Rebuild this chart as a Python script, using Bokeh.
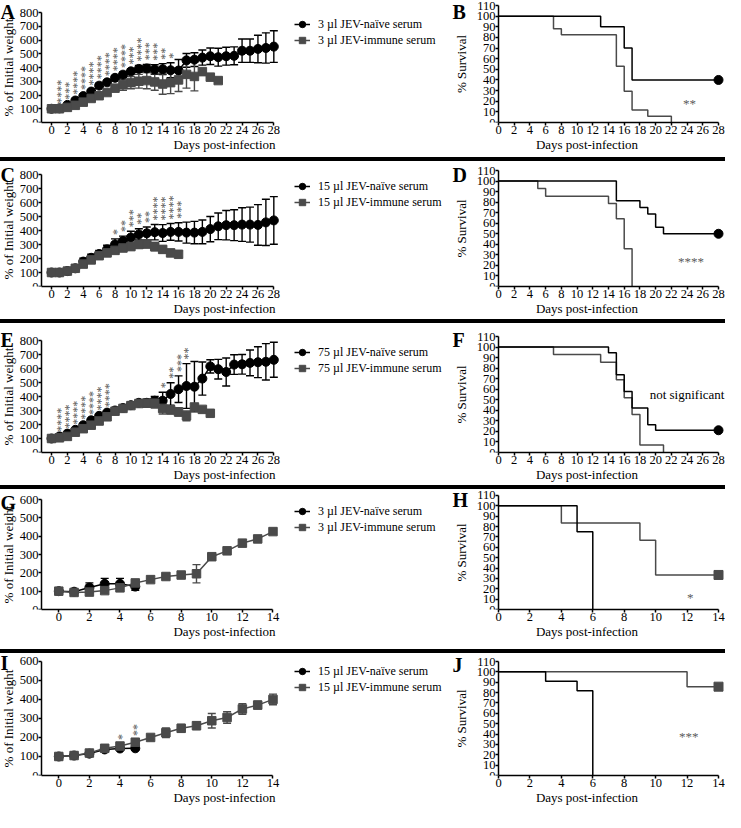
import math
from bokeh.plotting import figure
from bokeh.models import (ColumnDataSource, Range1d, FixedTicker, Whisker, TeeHead,
                          Label, Legend, LegendItem, Div)
from bokeh.layouts import column, row
from bokeh.core.properties import value
from bokeh.embed import file_html
from bokeh.resources import INLINE

FONT = "Liberation Serif, serif"
NAIVE = "#000000"
IMMUNE = "#4a4a4a"
STAR = "#5a5a5a"

# ---------------- weight data (% of initial weight, mean and SEM) ----------------
A_naive = [100, 103, 128, 160, 192, 225, 268, 292, 325, 348, 372, 390, 393, 385, 388, 380, 378,
           452, 457, 472, 482, 475, 482, 485, 522, 522, 535, 542, 552]
A_naive_err = [0, 5, 8, 12, 15, 15, 18, 15, 18, 20, 20, 25, 30, 35, 40, 55, 80,
               50, 50, 55, 60, 65, 65, 65, 85, 85, 100, 110, 115]
A_immune = [100, 100, 110, 125, 148, 175, 195, 218, 250, 275, 290, 300, 305, 295, 280, 290, 310,
            350, 335, 370, 330, 305]
A_immune_err = [0, 0, 5, 8, 10, 12, 12, 18, 25, 40, 45, 50, 60, 60, 75, 80, 85, 100, 105, 0, 0, 0]
A_star_days = list(range(1, 16))
A_star_counts = [4, 3, 4, 4, 4, 4, 4, 4, 4, 3, 4, 3, 3, 2, 1]

C_naive = [100, 100, 110, 130, 178, 205, 232, 265, 300, 325, 350, 372, 380, 388, 382, 390, 390,
           385, 385, 390, 410, 430, 438, 438, 442, 442, 440, 458, 472]
C_naive_err = [0, 0, 8, 12, 25, 25, 25, 30, 40, 35, 45, 40, 45, 55, 60, 60, 65,
               75, 80, 85, 90, 95, 105, 110, 120, 125, 145, 165, 170]
C_immune = [100, 100, 110, 130, 160, 190, 220, 240, 258, 275, 285, 300, 305, 285, 265, 240, 230]
C_immune_err = [0, 0, 5, 10, 20, 25, 15, 15, 20, 20, 25, 25, 30, 30, 25, 25, 20]
C_star_days = [8, 9, 10, 11, 12, 13, 14, 15, 16]
C_star_counts = [1, 2, 3, 2, 2, 4, 4, 4, 3]

E_naive = [100, 115, 135, 162, 195, 230, 262, 285, 300, 318, 338, 355, 355, 370, 370, 418, 452,
           475, 470, 528, 615, 595, 575, 628, 630, 640, 645, 648, 662]
E_naive_err = [0, 5, 8, 8, 10, 10, 10, 10, 12, 12, 12, 15, 25, 30, 60, 80, 95,
               160, 180, 118, 47, 70, 100, 70, 70, 92, 110, 130, 125]
E_immune = [100, 105, 115, 145, 170, 195, 225, 255, 295, 315, 335, 350, 352, 352, 315, 305, 290,
            262, 325, 308, 280]
E_immune_err = [0, 0, 5, 8, 10, 10, 10, 12, 12, 10, 10, 15, 30, 35, 40, 30, 30, 35, 0, 0, 0]
E_star_days = [1, 2, 3, 4, 5, 6, 7, 14, 15, 16, 17]
E_star_counts = [4, 4, 4, 4, 4, 4, 4, 1, 2, 3, 2]

G_naive = [100, 97, 120, 140, 140, 125]
G_naive_err = [0, 5, 25, 30, 30, 20]
G_immune = [100, 93, 95, 103, 118, 145, 163, 180, 188, 195, 288, 320, 362, 385, 425]
G_immune_err = [0, 5, 5, 5, 8, 10, 5, 5, 15, 50, 8, 8, 8, 8, 8]
G_star_days = []
G_star_counts = []

I_naive = [100, 105, 115, 137, 142, 143]
I_naive_err = [0, 3, 5, 8, 8, 8]
I_immune = [100, 105, 118, 143, 155, 175, 200, 225, 248, 262, 288, 305, 350, 370, 400]
I_immune_err = [0, 5, 5, 15, 10, 12, 10, 25, 20, 20, 38, 30, 28, 20, 28]
I_star_days = [4, 5]
I_star_counts = [1, 2]

ticks28 = list(range(0, 29, 2))
ticks14 = list(range(0, 15, 2))
wticks800 = list(range(0, 801, 100))
wticks600 = list(range(0, 601, 100))
sticks = list(range(0, 111, 10))

# ---------------- survival data (% survival step curves) ----------------
B_naive_t = [0, 13, 16, 17, 28]
B_naive_s = [100, 90, 70, 40, 40]
B_imm_t = [0, 7, 8, 15, 16, 17, 19, 22]
B_imm_s = [100, 88.2, 82.4, 52.9, 29.4, 11.8, 5.9, 0]

D_naive_t = [0, 15, 18, 19, 20, 21, 28]
D_naive_s = [100, 81.3, 75, 68.8, 56.3, 50, 50]
D_imm_t = [0, 5, 6, 14, 15, 16, 17]
D_imm_s = [100, 92.9, 85.7, 78.6, 64.3, 35.7, 0]

F_naive_t = [0, 14, 15, 16, 17, 19, 20, 28]
F_naive_s = [100, 94.7, 73.7, 57.9, 42.1, 26.3, 21.1, 21.1]
F_imm_t = [0, 7, 13, 15, 16, 17, 18, 21]
F_imm_s = [100, 92.9, 85.7, 69, 52, 36, 7.1, 0]

H_naive_t = [0, 5, 6]
H_naive_s = [100, 75, 0]
H_imm_t = [0, 4, 9, 10, 14]
H_imm_s = [100, 83.3, 66.7, 33.3, 33.3]

J_naive_t = [0, 3, 5, 6]
J_naive_s = [100, 90.9, 81.8, 0]
J_imm_t = [0, 12, 14]
J_imm_s = [100, 85.7, 85.7]

# ---------------- geometry (pixels) ----------------
LW, RW = 448, 277          # left / right figure widths
AX_L, AX_R = 41, 50        # y-axis pixel position inside each figure
LEG_X = 294                # legend left edge inside weight figures


def style(p, xticks, yticks, ylab_standoff):
    for ax in (p.xaxis[0], p.yaxis[0]):
        ax.axis_line_width = 1.5
        ax.axis_line_color = "black"
        ax.major_tick_line_width = 1.5
        ax.major_tick_line_color = "black"
        ax.major_tick_out = 3
        ax.major_tick_in = 0
        ax.minor_tick_line_color = None
        ax.major_label_text_font = FONT
        ax.major_label_text_font_size = "12.5px"
        ax.major_label_text_color = "black"
        ax.major_label_standoff = 0
        ax.axis_label_text_font = FONT
        ax.axis_label_text_font_size = "13px"
        ax.axis_label_text_font_style = "normal"
        ax.axis_label_text_color = "black"
    p.xaxis[0].axis_label_standoff = 0
    p.yaxis[0].axis_label_standoff = ylab_standoff
    p.xaxis[0].ticker = FixedTicker(ticks=xticks)
    p.yaxis[0].ticker = FixedTicker(ticks=yticks)
    p.xgrid.visible = False
    p.ygrid.visible = False
    p.outline_line_color = None
    p.background_fill_color = "white"
    p.border_fill_color = "white"


def letter_label(p, letter, lx, fh, cy):
    p.add_layout(Label(x=lx, y=fh - cy, x_units="screen", y_units="screen", text=letter,
                       text_font=FONT, text_font_style="bold", text_font_size="20px",
                       text_baseline="middle", text_align="left", text_color="black"))


def weight_panel(letter, dose, n_mean, n_err, i_mean, i_err, star_days, star_counts,
                 x0, kx, xticks, y_max, yticks, height, top, bottom, letter_cy):
    fh = height - bottom
    y_end = y_max * fh / (fh - top)
    xs = x0 - AX_L / kx
    p = figure(width=LW, height=height, x_range=Range1d(xs, xs + LW / kx),
               y_range=Range1d(0, y_end), min_border=0, min_border_left=0, min_border_right=0,
               min_border_top=0, min_border_bottom=bottom,
               output_backend="svg", toolbar_location=None)
    style(p, xticks, yticks, 1)
    p.xaxis.axis_label = "Days post-infection"
    p.yaxis.axis_label = "% of Initial weight"
    p.xaxis.bounds = (x0, xticks[-1])
    p.yaxis.bounds = (0, y_max)
    p.yaxis.fixed_location = x0
    n_days = list(range(len(n_mean)))
    i_days = list(range(len(i_mean)))
    for days, mean, err, col in ((n_days, n_mean, n_err, NAIVE), (i_days, i_mean, i_err, IMMUNE)):
        src = ColumnDataSource(dict(x=days, upper=[m + e for m, e in zip(mean, err)],
                                    lower=[m - e for m, e in zip(mean, err)]))
        w = Whisker(source=src, base="x", upper="upper", lower="lower", dimension="height",
                    line_color=col, line_width=1.4, level="underlay",
                    upper_head=TeeHead(size=8, line_color=col, line_width=1.4),
                    lower_head=TeeHead(size=8, line_color=col, line_width=1.4))
        p.add_layout(w)
    ln = p.line(n_days, n_mean, color=NAIVE, line_width=1.5)
    sn = p.scatter(n_days, n_mean, marker="circle", size=9, color=NAIVE)
    li = p.line(i_days, i_mean, color=IMMUNE, line_width=1.5)
    si = p.scatter(i_days, i_mean, marker="square", size=8.5, color=IMMUNE)
    if star_days:
        top_n = {d: m + e for d, m, e in zip(n_days, n_mean, n_err)}
        top_i = {d: m + e for d, m, e in zip(i_days, i_mean, i_err)}
        ys = [max(top_n.get(d, 0), top_i.get(d, 0)) for d in star_days]
        p.text(x=star_days, y=ys, text=["*" * c for c in star_counts], angle=math.pi / 2,
               text_align="left", text_baseline="middle", x_offset=2, y_offset=-4,
               text_font=value(FONT), text_font_size="12px", text_color=STAR)
    leg = Legend(items=[LegendItem(label=f"{dose} µl JEV-naïve serum", renderers=[ln, sn]),
                        LegendItem(label=f"{dose} µl JEV-immune serum", renderers=[li, si])],
                 location=(LEG_X, fh - (top + 4) - 32), glyph_width=16, glyph_height=16,
                 label_height=16, label_standoff=8, spacing=0, padding=0, margin=0,
                 label_text_font=FONT, label_text_font_size="12px", label_text_color="black",
                 border_line_alpha=0, background_fill_alpha=0)
    p.add_layout(leg)
    letter_label(p, letter, 0, fh, letter_cy)
    return p


def surv_panel(letter, tn, sn, ti, si, marker_on, kx, xticks, note, note_x, note_y, note_col,
               height, top, bottom, letter_cy):
    fh = height - bottom
    y_end = 110 * fh / (fh - top)
    xs = -AX_R / kx
    p = figure(width=RW, height=height, x_range=Range1d(xs, xs + RW / kx),
               y_range=Range1d(0, y_end), min_border=0, min_border_left=0, min_border_right=0,
               min_border_top=0, min_border_bottom=bottom,
               output_backend="svg", toolbar_location=None)
    style(p, xticks, sticks, 5)
    p.xaxis.axis_label = "Days post-infection"
    p.yaxis.axis_label = "% Survival"
    p.xaxis.bounds = (0, xticks[-1])
    p.yaxis.bounds = (0, 110)
    p.yaxis.fixed_location = 0
    p.step(ti, si, mode="after", color=IMMUNE, line_width=1.5)
    p.step(tn, sn, mode="after", color=NAIVE, line_width=1.5)
    if marker_on == "naive":
        p.scatter([tn[-1]], [sn[-1]], marker="circle", size=9, color=NAIVE)
    else:
        p.scatter([ti[-1]], [si[-1]], marker="square", size=9, color=IMMUNE)
    p.add_layout(Label(x=note_x, y=note_y, text=note, text_font=FONT, text_font_size="13px",
                       text_align="center", text_baseline="middle", text_color=note_col))
    letter_label(p, letter, 4, fh, letter_cy)
    return p


K28, K14 = 7.94, 15.3
S28, S14 = 220 / 28, 220 / 14

pA = weight_panel("A", 3, A_naive, A_naive_err, A_immune, A_immune_err, A_star_days, A_star_counts,
                  -1.26, K28, ticks28, 800, wticks800, 157, 12, 35, 11)
pB = surv_panel("B", B_naive_t, B_naive_s, B_imm_t, B_imm_s, "naive", S28, ticks28,
                "**", 24.3, 18, STAR, 157, 5, 35, 11)
pC = weight_panel("C", 15, C_naive, C_naive_err, C_immune, C_immune_err, C_star_days, C_star_counts,
                  -1.26, K28, ticks28, 800, wticks800, 158, 13, 33, 13)
pD = surv_panel("D", D_naive_t, D_naive_s, D_imm_t, D_imm_s, "naive", S28, ticks28,
                "****", 24.5, 24, STAR, 158, 9, 33, 13)
pE = weight_panel("E", 75, E_naive, E_naive_err, E_immune, E_immune_err, E_star_days, E_star_counts,
                  -1.26, K28, ticks28, 800, wticks800, 162, 17, 33, 16)
pF = surv_panel("F", F_naive_t, F_naive_s, F_imm_t, F_imm_s, "naive", S28, ticks28,
                "not significant", 24.0, 55, "black", 162, 13, 33, 16)
pG = weight_panel("G", 3, G_naive, G_naive_err, G_immune, G_immune_err, G_star_days, G_star_counts,
                  -1.13, K14, ticks14, 600, wticks600, 160, 10, 40, 13)
pH = surv_panel("H", H_naive_t, H_naive_s, H_imm_t, H_imm_s, "immune", S14, ticks14,
                "*", 12.2, 12, STAR, 160, 6, 38, 12)
pI = weight_panel("I", 15, I_naive, I_naive_err, I_immune, I_immune_err, I_star_days, I_star_counts,
                  -1.13, K14, ticks14, 600, wticks600, 159, 8, 35, 11)
pJ = surv_panel("J", J_naive_t, J_naive_s, J_imm_t, J_imm_s, "immune", S14, ticks14,
                "***", 12.1, 38, STAR, 159, 8, 37, 11)


def sep():
    return Div(text="", width=725, height=4, margin=0, styles={"background-color": "black"})


layout = column(row(pA, pB), sep(), row(pC, pD), sep(), row(pE, pF), sep(),
                row(pG, pH), sep(), row(pI, pJ))

open("out.html", "w").write(file_html(layout, INLINE))
